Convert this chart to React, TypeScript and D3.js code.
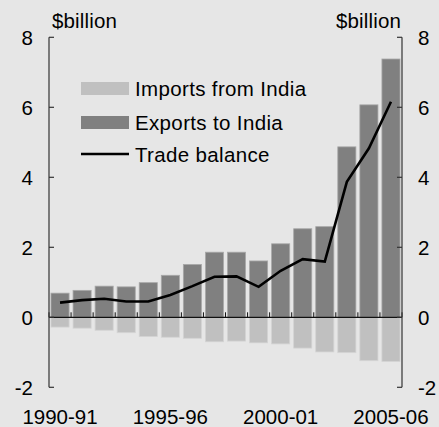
import React from "react";
import * as d3 from "d3";

const years = [
  "1990-91", "1991-92", "1992-93", "1993-94", "1994-95", "1995-96", "1996-97", "1997-98",
  "1998-99", "1999-00", "2000-01", "2001-02", "2002-03", "2003-04", "2004-05", "2005-06",
];
const exportsToIndia = [0.69, 0.77, 0.89, 0.87, 0.99, 1.2, 1.51, 1.86, 1.86, 1.61, 2.1, 2.53, 2.59, 4.87, 6.07, 7.38];
const importsFromIndia = [-0.28, -0.31, -0.37, -0.44, -0.55, -0.57, -0.6, -0.7, -0.68, -0.73, -0.76, -0.88, -0.99, -1.01, -1.24, -1.26];
const tradeBalance = [0.42, 0.49, 0.53, 0.45, 0.45, 0.64, 0.89, 1.16, 1.17, 0.87, 1.33, 1.66, 1.59, 3.87, 4.83, 6.16];
const yTicks = [-2, 0, 2, 4, 6, 8];
const xLabelYears = ["1990-91", "1995-96", "2000-01", "2005-06"];
const legendItems = ["Imports from India", "Exports to India", "Trade balance"];

const W = 439;
const H = 427;
const left = 49;
const right = 402;
const FONT = "'Liberation Sans', Arial, sans-serif";

export default function App() {
  const x = d3.scaleBand<string>().domain(years).range([left, right]).paddingInner(0.18).paddingOuter(0.09);
  const xb = d3.scaleBand<string>().domain(years).range([left, right]);
  const y = d3.scaleLinear().domain([-2, 8]).range([387.3, 37.3]);
  const line = d3
    .line<number>()
    .x((_, i) => (x(years[i]) as number) + x.bandwidth() / 2)
    .y((d) => y(d));
  const fs = 20.5;
  const ls = 0.35;
  return (
    <svg width={W} height={H} style={{ position: "absolute", left: 0, top: 0 }} fontFamily={FONT}>
      <rect x={0} y={0} width={W} height={H} fill="#e6e6e6" />
      {years.map((yr, i) => (
        <rect
          key={"i" + yr}
          x={x(yr)}
          y={y(0)}
          width={x.bandwidth()}
          height={y(importsFromIndia[i]) - y(0)}
          fill="#c0c0c0"
          stroke="#d4d4d4"
          strokeWidth={0.8}
        />
      ))}
      {years.map((yr, i) => (
        <rect
          key={"e" + yr}
          x={x(yr)}
          y={y(exportsToIndia[i])}
          width={x.bandwidth()}
          height={y(0) - y(exportsToIndia[i])}
          fill="#808080"
          stroke="#a8a8a8"
          strokeWidth={0.8}
        />
      ))}
      {/* zero line and band ticks */}
      <line x1={left} x2={right} y1={y(0)} y2={y(0)} stroke="#111" strokeWidth={1.2} />
      {years.map((yr) => (
        <line key={"t" + yr} x1={xb(yr)} x2={xb(yr)} y1={y(0)} y2={y(0) - 5} stroke="#111" strokeWidth={1} />
      ))}
      <line x1={right} x2={right} y1={y(0)} y2={y(0) - 5} stroke="#111" strokeWidth={1} />
      {/* axes */}
      <line x1={left} x2={left} y1={y(8)} y2={y(-2)} stroke="#333" strokeWidth={1.2} />
      <line x1={right} x2={right} y1={y(8)} y2={y(-2)} stroke="#333" strokeWidth={1.2} />
      {yTicks.map((t) => (
        <g key={"y" + t}>
          <line x1={left} x2={left + 5} y1={y(t)} y2={y(t)} stroke="#333" strokeWidth={1.2} />
          <line x1={right} x2={right - 5} y1={y(t)} y2={y(t)} stroke="#333" strokeWidth={1.2} />
          <text x={33} y={y(t)} dy="0.36em" textAnchor="end" fontSize={fs} fill="#000">
            {t}
          </text>
          <text x={418} y={y(t)} dy="0.36em" textAnchor="start" fontSize={fs} fill="#000">
            {t}
          </text>
        </g>
      ))}
      <text x={52} y={28} fontSize={fs} letterSpacing={0.15} fill="#000">$billion</text>
      <text x={401} y={28} textAnchor="end" fontSize={fs} letterSpacing={0.15} fill="#000">$billion</text>
      {xLabelYears.map((yr) => (
        <text
          key={"x" + yr}
          x={(xb(yr) as number) + xb.bandwidth() / 2}
          y={424}
          textAnchor="middle"
          fontSize={fs}
          fill="#000"
        >
          {yr}
        </text>
      ))}
      <path d={line(tradeBalance) || ""} fill="none" stroke="#000" strokeWidth={2.6} strokeLinejoin="miter" />
      {/* legend */}
      <g>
        <rect x={81} y={82} width={48} height={13} fill="#c0c0c0" />
        <text x={135} y={96} fontSize={fs} letterSpacing={ls} fill="#000">{legendItems[0]}</text>
        <rect x={81} y={116} width={48} height={13} fill="#808080" />
        <text x={135} y={129.5} fontSize={fs} letterSpacing={ls} fill="#000">{legendItems[1]}</text>
        <line x1={81} x2={129} y1={154} y2={154} stroke="#000" strokeWidth={2.6} />
        <text x={135} y={161.5} fontSize={fs} letterSpacing={ls} fill="#000">{legendItems[2]}</text>
      </g>
    </svg>
  );
}
